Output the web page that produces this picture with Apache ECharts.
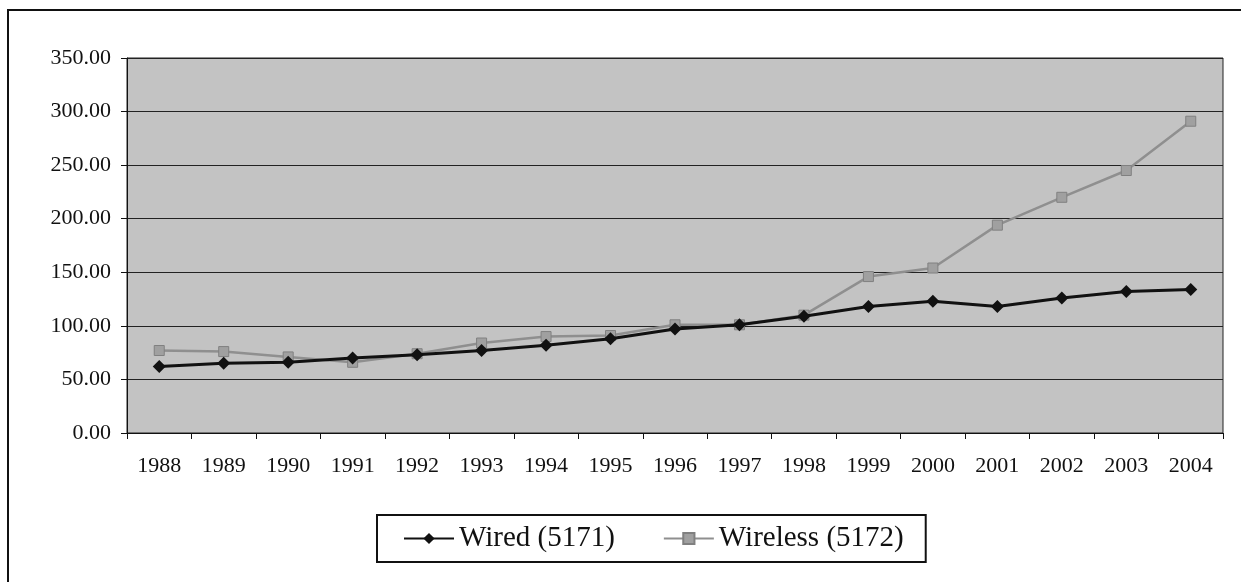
<!DOCTYPE html>
<html>
<head>
<meta charset="utf-8">
<script src="https://cdn.jsdelivr.net/npm/echarts@6/dist/echarts.min.js"></script>
<style>
  html, body { margin: 0; padding: 0; background: #fff; }
  #chart { width: 1241px; height: 582px; }
</style>
</head>
<body>
<div id="chart"></div>
<script>
// categories and series values
const years = ['1988', '1989', '1990', '1991', '1992', '1993', '1994', '1995', '1996',
  '1997', '1998', '1999', '2000', '2001', '2002', '2003', '2004'];
const wired = [62, 65, 66, 70, 73, 77, 82, 88, 97, 101, 109, 118, 123, 118, 126, 132, 134];
const wireless = [77, 76, 71, 66, 74, 84, 90, 91, 101, 101, 110, 146, 154, 194, 220, 245, 291];
const seriesNames = ['Wired (5171)', 'Wireless (5172)'];

const FONT = '"Liberation Serif", "DejaVu Serif", serif';

const myChart = echarts.init(document.getElementById('chart'));
myChart.setOption({
  animation: false,
  backgroundColor: '#fff',
  graphic: [
    {
      // outer chart frame, runs off the right and bottom edges
      type: 'rect',
      shape: { x: 8, y: 10, width: 1250, height: 600 },
      style: { fill: 'none', stroke: '#111', lineWidth: 2 },
      z: -1,
    },
  ],
  grid: {
    left: 127,
    right: 18,
    top: 58,
    bottom: 149,
    show: true,
    backgroundColor: '#c3c3c3',
    borderColor: '#222',
    borderWidth: 1,
  },
  legend: {
    left: 377,
    top: 515,
    padding: [9, 22, 9, 26],
    borderColor: '#111',
    borderWidth: 2,
    itemWidth: 50,
    itemHeight: 14,
    itemGap: 48,
    textStyle: { fontFamily: FONT, fontSize: 29, color: '#111' },
    data: seriesNames,
  },
  xAxis: {
    type: 'category',
    data: years,
    boundaryGap: true,
    axisLine: { lineStyle: { color: '#111', width: 1 } },
    axisTick: { show: true, length: 6, inside: false, lineStyle: { color: '#111' } },
    axisLabel: { fontFamily: FONT, fontSize: 22, color: '#111', margin: 22 },
  },
  yAxis: {
    type: 'value',
    min: 0,
    max: 350,
    interval: 50,
    axisLine: { show: true, lineStyle: { color: '#111', width: 1 } },
    axisTick: { show: true, length: 6, lineStyle: { color: '#111' } },
    axisLabel: {
      fontFamily: FONT,
      fontSize: 22,
      color: '#111',
      margin: 16,
      formatter: (v) => v.toFixed(2),
    },
    splitLine: { show: true, lineStyle: { color: '#222', width: 1.2 } },
  },
  series: [
    {
      name: seriesNames[0],
      type: 'line',
      data: wired,
      symbol: 'diamond',
      symbolSize: 13,
      lineStyle: { color: '#111', width: 3 },
      itemStyle: { color: '#111' },
      z: 3,
    },
    {
      name: seriesNames[1],
      type: 'line',
      data: wireless,
      symbol: 'rect',
      symbolSize: 10,
      lineStyle: { color: '#8f8f8f', width: 2.5 },
      itemStyle: { color: '#a0a0a0', borderColor: '#808080', borderWidth: 1 },
      z: 2,
    },
  ],
});
</script>
</body>
</html>
